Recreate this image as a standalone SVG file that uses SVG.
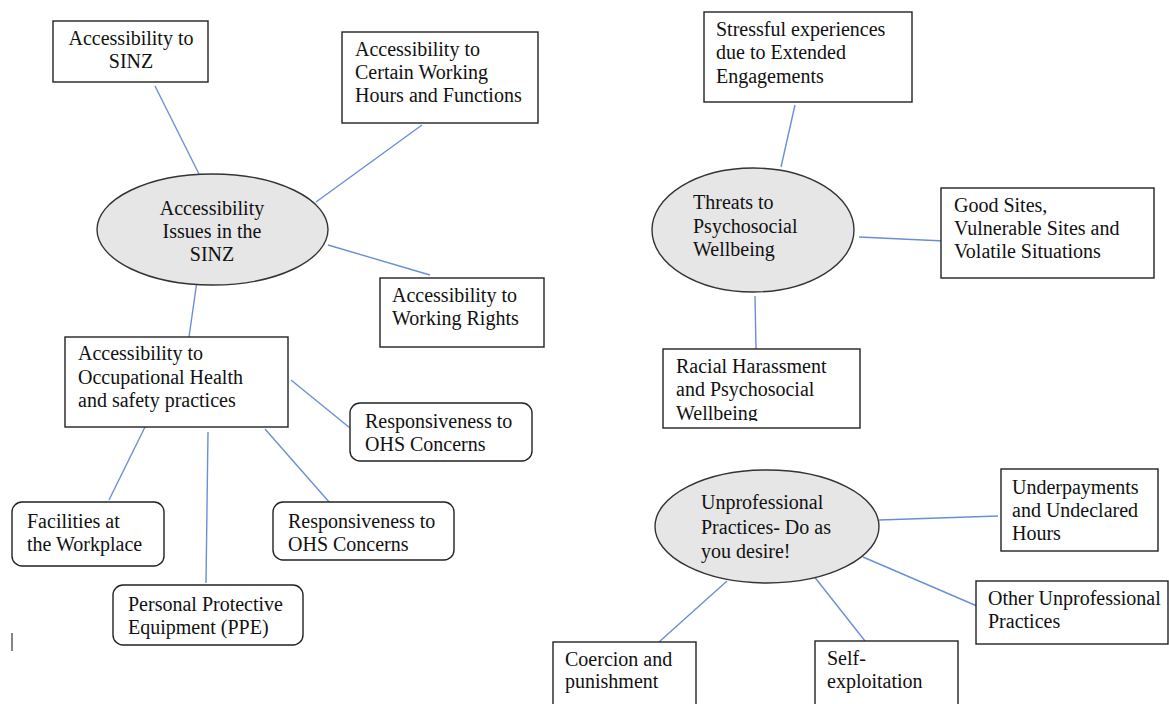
<svg xmlns="http://www.w3.org/2000/svg" width="1169" height="704" viewBox="0 0 1169 704">
<style>
.box{fill:#fff;stroke:#222;stroke-width:1.4}
.ell{fill:#e6e6e6;stroke:#333;stroke-width:1.4}
.t{font-size:20px;fill:#111}
.c{text-anchor:middle}
#connectors line{stroke:#6a8fd6;stroke-width:1.4}
</style>
<defs>
<clipPath id="clipRacial"><rect x="663" y="349" width="197" height="72"/></clipPath>
</defs>
<rect width="1169" height="704" fill="#fff"/>
<g id="connectors">
<line x1="155" y1="86" x2="199" y2="174"/>
<line x1="422" y1="125" x2="316" y2="202"/>
<line x1="328" y1="245" x2="430" y2="275"/>
<line x1="197" y1="281" x2="189" y2="337"/>
<line x1="291" y1="380" x2="350" y2="428"/>
<line x1="145" y1="427" x2="109" y2="500"/>
<line x1="208" y1="432" x2="206" y2="583"/>
<line x1="265" y1="429" x2="330" y2="503"/>
<line x1="795" y1="105" x2="781" y2="167"/>
<line x1="859" y1="237" x2="944" y2="241"/>
<line x1="755" y1="296" x2="756" y2="349"/>
<line x1="879" y1="520" x2="998" y2="516"/>
<line x1="863" y1="557" x2="977" y2="606"/>
<line x1="727" y1="581" x2="659" y2="642"/>
<line x1="813" y1="575" x2="865" y2="641"/>
</g>
<g font-family="Liberation Serif, Times New Roman, serif">
<g id="n-sinz">
<rect class="box" x="53" y="21" width="155" height="61"/>
<text class="t c" x="131" y="45">Accessibility to</text>
<text class="t c" x="131" y="68">SINZ</text>
</g>
<g id="n-hours">
<rect class="box" x="342" y="32" width="196" height="91"/>
<text class="t" x="355" y="56">Accessibility to</text>
<text class="t" x="355" y="79">Certain Working</text>
<text class="t" x="355" y="102">Hours and Functions</text>
</g>
<g id="n-access">
<ellipse class="ell" cx="212.5" cy="229.5" rx="115.5" ry="55.5"/>
<text class="t c" x="212" y="215">Accessibility</text>
<text class="t c" x="212" y="238">Issues in the</text>
<text class="t c" x="212" y="261">SINZ</text>
</g>
<g id="n-rights">
<rect class="box" x="380" y="278" width="164" height="69"/>
<text class="t" x="392" y="302">Accessibility to</text>
<text class="t" x="392" y="325">Working Rights</text>
</g>
<g id="n-ohs">
<rect class="box" x="65" y="337" width="223" height="90"/>
<text class="t" x="78" y="360">Accessibility to</text>
<text class="t" x="78" y="384">Occupational Health</text>
<text class="t" x="78" y="407">and safety practices</text>
</g>
<g id="n-resp1">
<rect class="box" x="350" y="403" width="182" height="58" rx="10"/>
<text class="t" x="365" y="428">Responsiveness to</text>
<text class="t" x="365" y="451">OHS Concerns</text>
</g>
<g id="n-facilities">
<rect class="box" x="12" y="502" width="152" height="64" rx="10"/>
<text class="t" x="27" y="528">Facilities at</text>
<text class="t" x="27" y="551">the Workplace</text>
</g>
<g id="n-resp2">
<rect class="box" x="273" y="502" width="181" height="58" rx="10"/>
<text class="t" x="288" y="528">Responsiveness to</text>
<text class="t" x="288" y="551">OHS Concerns</text>
</g>
<g id="n-ppe">
<rect class="box" x="113" y="585" width="190" height="60" rx="10"/>
<text class="t" x="128" y="611">Personal Protective</text>
<text class="t" x="128" y="634">Equipment (PPE)</text>
</g>
<g id="n-stress">
<rect class="box" x="704" y="12" width="208" height="90"/>
<text class="t" x="716" y="36">Stressful experiences</text>
<text class="t" x="716" y="59">due to Extended</text>
<text class="t" x="716" y="83">Engagements</text>
</g>
<g id="n-threats">
<ellipse class="ell" cx="753" cy="230" rx="101" ry="62"/>
<text class="t" x="693" y="209">Threats to</text>
<text class="t" x="693" y="233">Psychosocial</text>
<text class="t" x="693" y="256">Wellbeing</text>
</g>
<g id="n-sites">
<rect class="box" x="941" y="188" width="213" height="90"/>
<text class="t" x="954" y="212">Good Sites,</text>
<text class="t" x="954" y="235">Vulnerable Sites and</text>
<text class="t" x="954" y="258">Volatile Situations</text>
</g>
<g id="n-racial">
<rect class="box" x="663" y="349" width="197" height="79"/>
<g clip-path="url(#clipRacial)">
<text class="t" x="676" y="373">Racial Harassment</text>
<text class="t" x="676" y="396">and Psychosocial</text>
<text class="t" x="676" y="420">Wellbeing</text>
</g>
</g>
<g id="n-unprof">
<ellipse class="ell" cx="767" cy="526.5" rx="112" ry="56.5"/>
<text class="t" x="701" y="509">Unprofessional</text>
<text class="t" x="701" y="534">Practices- Do as</text>
<text class="t" x="701" y="558">you desire!</text>
</g>
<g id="n-under">
<rect class="box" x="1001" y="469" width="157" height="82"/>
<text class="t" x="1012" y="494">Underpayments</text>
<text class="t" x="1012" y="517">and Undeclared</text>
<text class="t" x="1012" y="540">Hours</text>
</g>
<g id="n-other">
<rect class="box" x="976" y="581" width="192" height="63"/>
<text class="t" x="988" y="605">Other Unprofessional</text>
<text class="t" x="988" y="628">Practices</text>
</g>
<g id="n-coercion">
<rect class="box" x="553" y="642" width="143" height="70"/>
<text class="t" x="565" y="666">Coercion and</text>
<text class="t" x="565" y="688">punishment</text>
</g>
<g id="n-self">
<rect class="box" x="815" y="641" width="143" height="71"/>
<text class="t" x="827" y="665">Self-</text>
<text class="t" x="827" y="688">exploitation</text>
</g>
</g>
<line x1="12" y1="633" x2="12" y2="651" stroke="#333" stroke-width="1.2"/>
</svg>
